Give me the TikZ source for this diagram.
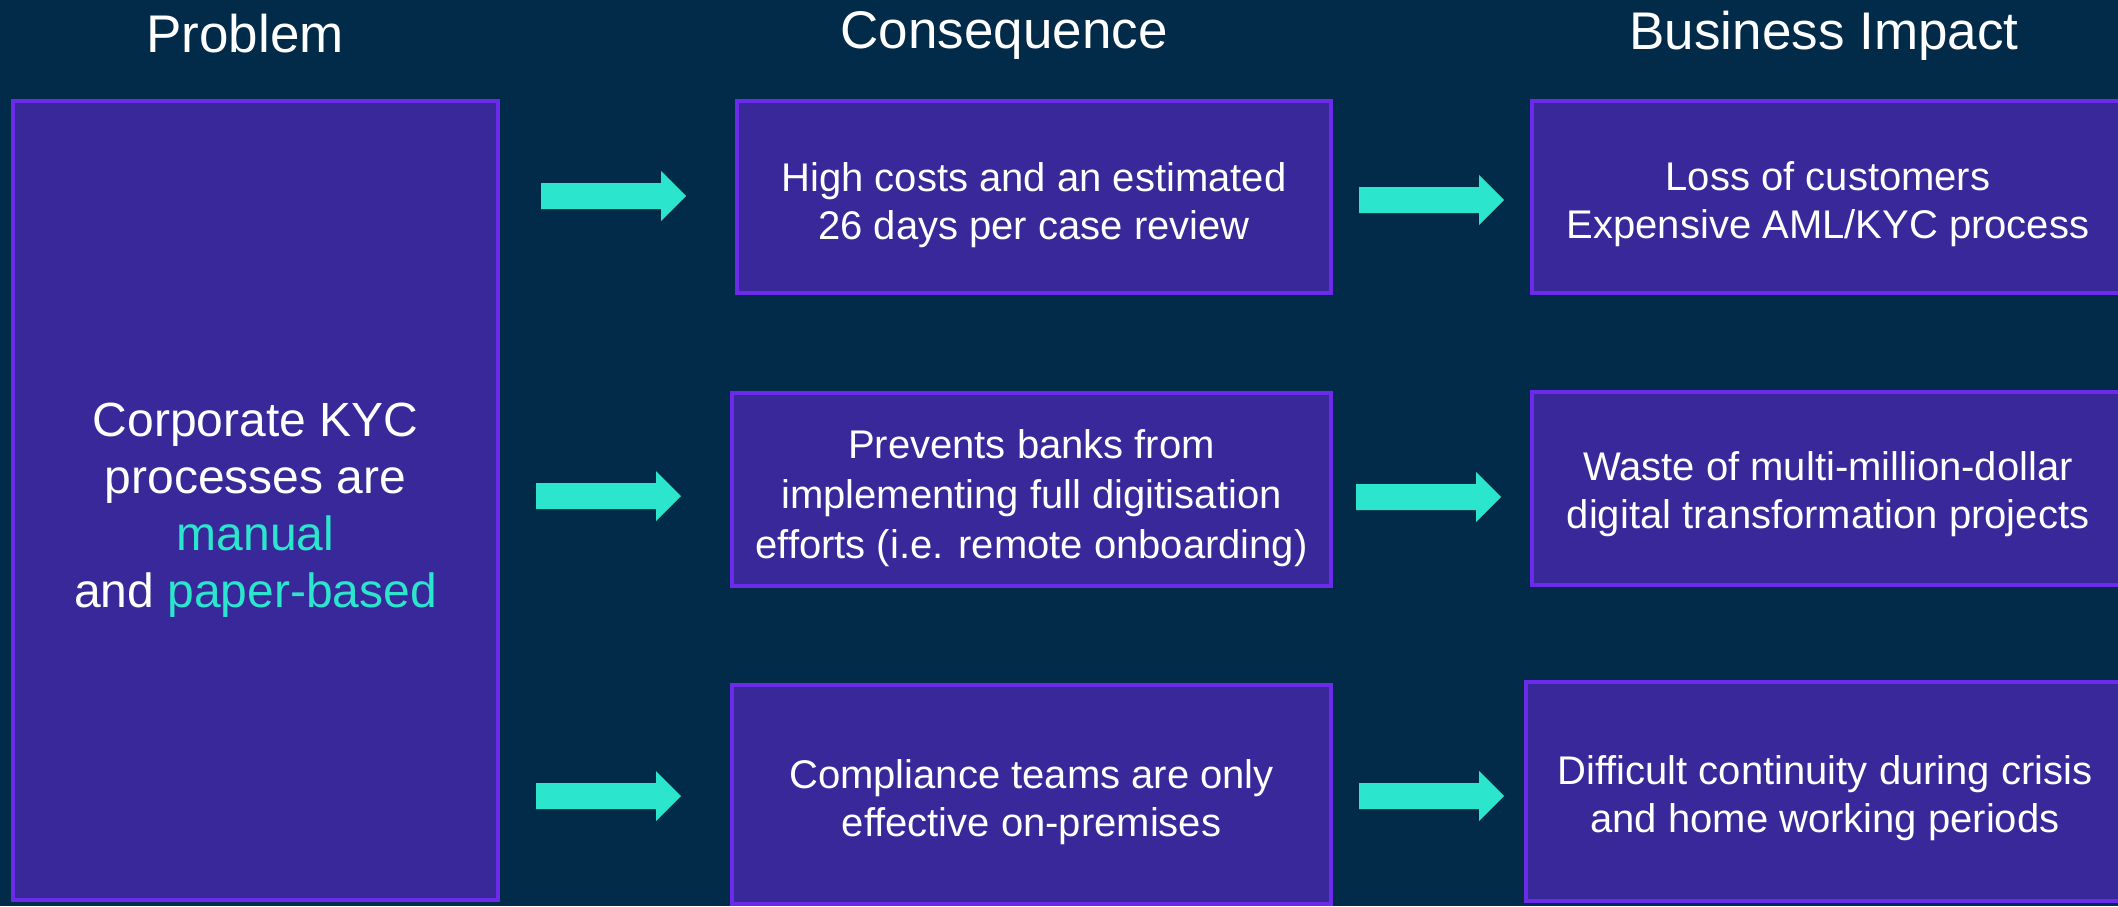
\documentclass[tikz,border=0pt]{standalone}
\usepackage{fontspec}
\setmainfont{Liberation Sans}
\definecolor{bgc}{HTML}{022A49}
\definecolor{boxfill}{HTML}{38289A}
\definecolor{boxline}{HTML}{6C2AEA}
\definecolor{teal}{HTML}{2CE5CD}
\begin{document}
\begin{tikzpicture}[x=1pt,y=-1pt,
  box/.style={draw=boxline, line width=4pt, fill=boxfill, inner sep=0pt},
  boxtext/.style={text=white, align=center, inner sep=0pt, font=\fontsize{40}{48}\selectfont},
  bigtext/.style={boxtext, font=\fontsize{48}{57}\selectfont},
  title/.style={text=white, anchor=base, inner sep=0pt, font=\fontsize{53}{60}\selectfont},
  blockarrow/.style={fill=teal}]
\useasboundingbox (0,0) rectangle (2118,906);
\fill[bgc] (0,0) rectangle (2118,906);
\clip (0,0) rectangle (2118,906);
% titles
\node[title] (tp) at (245,52) {Problem};
\node[title] (tc) at (1004,48) {Consequence};
\node[title] (tb) at (1824,49) {Business Impact};
% problem box
\node[box, minimum width=485pt, minimum height=799pt] (p) at (255.5,500.5) {};
\node[bigtext] (pt) at ([yshift=-10pt]p.center)
  {Corporate KYC\\processes are\\\textcolor{teal}{manual}\\and \textcolor{teal}{paper-based}};
% consequence boxes
\node[box, minimum width=594pt, minimum height=192pt] (c1) at (1034,197) {};
\node[boxtext] (c1t) at ([yshift=-8pt]c1.center)
  {High costs and an estimated\\26 days per case review};
\node[box, minimum width=599pt, minimum height=193pt] (c2) at (1031.5,489.5) {};
\node[boxtext, font=\fontsize{40}{50}\selectfont] (c2t) at ([yshift=-9pt]c2.center)
  {Prevents banks from\\implementing full digitisation\\efforts (i.e. remote onboarding)};
\node[box, minimum width=599pt, minimum height=219pt] (c3) at (1031.5,794.5) {};
\node[boxtext] (c3t) at ([yshift=-8pt]c3.center)
  {Compliance teams are only\\effective on-premises};
% business boxes
\node[box, minimum width=592pt, minimum height=192pt] (b1) at (1828,197) {};
\node[boxtext] (b1t) at ([yshift=-7pt]b1.center)
  {Loss of customers\\Expensive AML/KYC process};
\node[box, minimum width=592pt, minimum height=193pt] (b2) at (1828,488.5) {};
\node[boxtext] (b2t) at ([yshift=-6pt]b2.center)
  {Waste of multi-million-dollar\\digital transformation projects};
\node[box, minimum width=598pt, minimum height=219pt] (b3) at (1825,791.5) {};
\node[boxtext] (b3t) at ([yshift=-7pt]b3.center)
  {Difficult continuity during crisis\\and home working periods};
% block arrows
\coordinate (a1) at (541,196);
\coordinate (a2) at (536,496);
\coordinate (a3) at (536,796);
\coordinate (a4) at (1359,200);
\coordinate (a5) at (1356,497);
\coordinate (a6) at (1359,796);
\foreach \a in {a1,a2,a3,a4,a5,a6}{
  \fill[blockarrow] (\a) ++(0,-13) -- ++(120,0) -- ++(0,-12) -- ++(25,25)
    -- ++(-25,25) -- ++(0,-12) -- ++(-120,0) -- cycle;
}
\end{tikzpicture}
\end{document}
